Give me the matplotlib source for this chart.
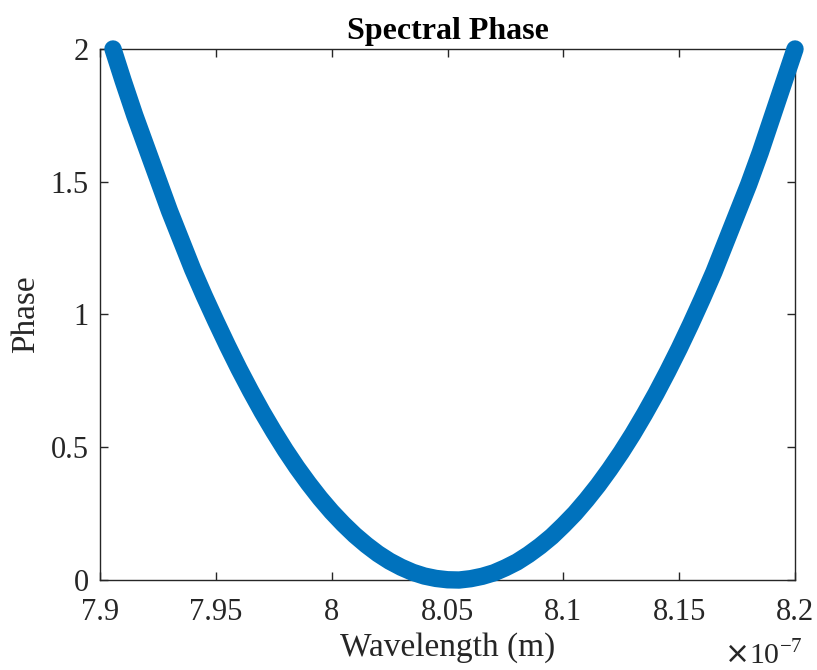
import matplotlib
matplotlib.use("Agg")
import matplotlib.pyplot as plt

# values (wavelength in units of 1e-7 m)
wavelength = [7.9056, 7.91, 7.915, 7.92, 7.925, 7.93, 7.935, 7.94, 7.945, 7.95,
              7.955, 7.96, 7.965, 7.97, 7.975, 7.98, 7.985, 7.99, 7.995, 8.00,
              8.005, 8.01, 8.015, 8.02, 8.025, 8.03, 8.035, 8.04, 8.045, 8.05,
              8.055, 8.06, 8.065, 8.07, 8.075, 8.08, 8.085, 8.09, 8.095, 8.10,
              8.105, 8.11, 8.115, 8.12, 8.125, 8.13, 8.135, 8.14, 8.145, 8.15,
              8.155, 8.16, 8.165, 8.17, 8.175, 8.18, 8.185, 8.19, 8.195, 8.20]
phase = [2.00, 1.88, 1.75, 1.63, 1.51, 1.39, 1.28, 1.17, 1.07, 0.975,
         0.883, 0.795, 0.712, 0.633, 0.559, 0.489, 0.424, 0.364, 0.308, 0.257,
         0.211, 0.169, 0.132, 0.099, 0.071, 0.048, 0.029, 0.015, 0.006, 0.001,
         0.000, 0.005, 0.014, 0.027, 0.046, 0.068, 0.096, 0.128, 0.164, 0.206,
         0.251, 0.302, 0.357, 0.417, 0.481, 0.550, 0.624, 0.702, 0.785, 0.872,
         0.964, 1.06, 1.16, 1.27, 1.38, 1.49, 1.61, 1.74, 1.87, 2.00]

x_ticks = [7.9, 7.95, 8.0, 8.05, 8.1, 8.15, 8.2]
x_ticklabels = ["7.9", "7.95", "8", "8.05", "8.1", "8.15", "8.2"]
y_ticks = [0, 0.5, 1, 1.5, 2]
y_ticklabels = ["0", "0.5", "1", "1.5", "2"]

plt.rcParams["font.family"] = ["Liberation Serif", "DejaVu Serif"]

fig = plt.figure(figsize=(8.17, 6.7), dpi=100)
ax = fig.add_axes([0.1224, 0.1343, 0.8507, 0.7926])

ax.plot(wavelength, phase, color="#0072BD", linewidth=12.5,
        solid_capstyle="round", solid_joinstyle="round", clip_on=False, zorder=3)

ax.set_xlim(7.9, 8.2)
ax.set_ylim(0, 2)
ax.set_xticks(x_ticks)
ax.set_xticklabels(x_ticklabels)
ax.set_yticks(y_ticks)
ax.set_yticklabels(y_ticklabels)

ax.tick_params(direction="in", length=6, width=1, top=True, right=True,
               labelsize=22, colors="#262626")
ax.tick_params(axis="x", pad=13)
ax.tick_params(axis="y", pad=8)
for sp in ax.spines.values():
    sp.set_color("#262626")
    sp.set_linewidth(1)

ax.set_xlabel("Wavelength (m)", fontsize=24, color="#262626", labelpad=4)
ax.set_ylabel("Phase", fontsize=24, color="#262626", labelpad=7)
ax.set_title("Spectral Phase", fontsize=23, fontweight="bold", color="black", pad=7)

fig.text(0.983, 0.0, r"$\times$10$^{\mathregular{-7}}$", fontsize=21.5,
         color="#262626", ha="right", va="bottom")

fig.savefig("out.png", dpi=100)
